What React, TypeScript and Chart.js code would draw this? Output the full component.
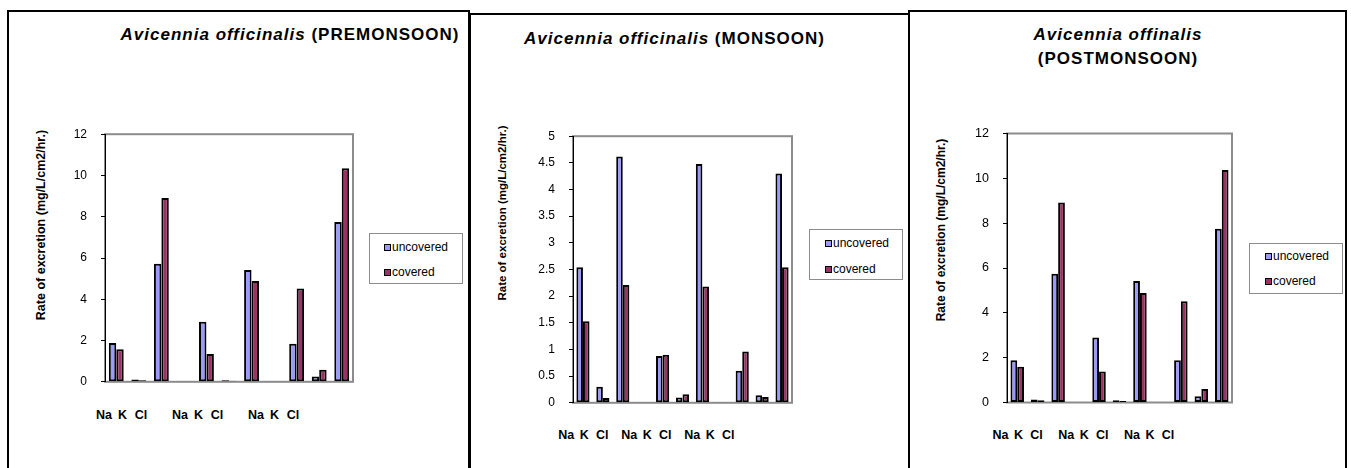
import React, { useEffect, useRef } from "react";
import { Chart, registerables } from "chart.js";

Chart.register(...registerables);

// ---------------- data ----------------
const categories = ["1", "2", "3", "4", "5", "6", "7", "8", "9", "10", "11"];
const seriesNames = ["uncovered", "covered"];

const preUncovered = [1.88, 0.11, 5.72, null, 2.91, 0.08, 5.42, null, 1.85, 0.26, 7.74];
const preCovered = [1.58, 0.08, 8.91, null, 1.35, 0.05, 4.89, null, 4.52, 0.58, 10.35];

const monUncovered = [2.54, 0.3, 4.62, null, 0.88, 0.1, 4.48, null, 0.6, 0.14, 4.3];
const monCovered = [1.53, 0.09, 2.21, null, 0.9, 0.16, 2.18, null, 0.96, 0.11, 2.54];

const postUncovered = [1.88, 0.13, 5.74, null, 2.9, 0.1, 5.42, null, 1.88, 0.28, 7.75];
const postCovered = [1.6, 0.1, 8.92, null, 1.38, 0.07, 4.88, null, 4.52, 0.6, 10.37];

const preYMax = 12;
const preYStep = 2;
const monYMax = 5;
const monYStep = 0.5;
const postYMax = 12;
const postYStep = 2;

const ionLabels = ["Na", "K", "Cl", "Na", "K", "Cl", "Na", "K", "Cl"];
const yAxisTitle = "Rate of excretion (mg/L/cm2/hr.)";

const preTitle = [
  [
    { t: "Avicennia officinalis", i: true },
    { t: " (PREMONSOON)", i: false },
  ],
];
const monTitle = [
  [
    { t: "Avicennia officinalis", i: true },
    { t: " (MONSOON)", i: false },
  ],
];
const postTitle = [[{ t: "Avicennia offinalis", i: true }], [{ t: "(POSTMONSOON)", i: false }]];

// ---------------- styles ----------------
const FONT = "'Liberation Sans', Arial, Helvetica, sans-serif";
const UNCOVERED_COLOR = "#9999FF";
const COVERED_COLOR = "#993366";
const FRAME_COLOR = "#8c8c8c";

type Part = { t: string; i: boolean };
type PanelCfg = {
  box: { left: number; top: number; right: number };
  area: { l: number; r: number; t: number; b: number };
  uncovered: (number | null)[];
  covered: (number | null)[];
  yMax: number;
  yStep: number;
  title: Part[][];
  titleCx: number;
  titleCys: number[];
  yTitle: { cx: number; cy: number; size: number };
  legend: { l: number; t: number; r: number; b: number; markerX: number; textX: number; rows: number[] };
  ion: { start: number; inner: number; triplet: number; cy: number };
  tickSize: number;
};

const panels: PanelCfg[] = [
  {
    box: { left: 7, top: 10, right: 470 },
    area: { l: 105, r: 353, t: 128, b: 388 },
    uncovered: preUncovered,
    covered: preCovered,
    yMax: preYMax,
    yStep: preYStep,
    title: preTitle,
    titleCx: 290,
    titleCys: [34.5],
    yTitle: { cx: 41, cy: 225, size: 12.5 },
    legend: { l: 369, t: 233, r: 463, b: 284, markerX: 384, textX: 392, rows: [247, 272] },
    ion: { start: 104, inner: 18.5, triplet: 76, cy: 415 },
    tickSize: 12,
  },
  {
    box: { left: 469, top: 13, right: 910 },
    area: { l: 573, r: 792, t: 130, b: 409 },
    uncovered: monUncovered,
    covered: monCovered,
    yMax: monYMax,
    yStep: monYStep,
    title: monTitle,
    titleCx: 674.5,
    titleCys: [38.7],
    yTitle: { cx: 501.5, cy: 213, size: 11.5 },
    legend: { l: 809, t: 229, r: 903, b: 280, markerX: 825, textX: 833, rows: [243, 269] },
    ion: { start: 566.3, inner: 18, triplet: 63, cy: 435 },
    tickSize: 12,
  },
  {
    box: { left: 908, top: 10, right: 1347 },
    area: { l: 1007, r: 1232, t: 127, b: 409 },
    uncovered: postUncovered,
    covered: postCovered,
    yMax: postYMax,
    yStep: postYStep,
    title: postTitle,
    titleCx: 1118,
    titleCys: [34.5, 59.2],
    yTitle: { cx: 941, cy: 230, size: 12 },
    legend: { l: 1249, t: 243, r: 1343, b: 294, markerX: 1265, textX: 1273, rows: [256, 281] },
    ion: { start: 1000.5, inner: 18, triplet: 65.7, cy: 435 },
    tickSize: 12.5,
  },
];

const PAD_T = 15;
const PAD_B = 15;
const PAD_R = 5;
const Y_W = 45;

const framePlugin = {
  id: "plotFrame",
  beforeDraw(chart: any) {
    const a = chart.chartArea;
    const ctx = chart.ctx;
    ctx.save();
    ctx.strokeStyle = FRAME_COLOR;
    ctx.lineWidth = 2;
    ctx.strokeRect(a.left, a.top, a.right - a.left, a.bottom - a.top);
    ctx.restore();
  },
};

function BarChart({ p }: { p: PanelCfg }) {
  const ref = useRef<HTMLCanvasElement | null>(null);
  const left = p.area.l - Y_W;
  const top = p.area.t - PAD_T;
  const width = p.area.r - left + PAD_R;
  const height = p.area.b - top + PAD_B;

  useEffect(() => {
    if (!ref.current) return;
    const chart = new Chart(ref.current, {
      type: "bar",
      data: {
        labels: categories,
        datasets: [
          {
            label: seriesNames[0],
            data: p.uncovered as any,
            backgroundColor: UNCOVERED_COLOR,
            borderColor: "#000",
            borderWidth: 2,
            borderSkipped: false,
          },
          {
            label: seriesNames[1],
            data: p.covered as any,
            backgroundColor: COVERED_COLOR,
            borderColor: "#000",
            borderWidth: 2,
            borderSkipped: false,
          },
        ],
      },
      options: {
        responsive: false,
        animation: false,
        events: [],
        layout: { padding: { top: PAD_T, bottom: PAD_B, right: PAD_R, left: 0 } },
        datasets: { bar: { categoryPercentage: 0.66, barPercentage: 1 } },
        plugins: {
          legend: { display: false },
          title: { display: false },
          tooltip: { enabled: false },
        },
        scales: {
          x: { display: false, offset: true },
          y: {
            min: 0,
            max: p.yMax,
            afterFit: (s: any) => {
              s.width = Y_W;
            },
            ticks: {
              stepSize: p.yStep,
              padding: 14,
              color: "#000",
              font: { family: FONT, size: p.tickSize },
              callback: (v: any) => String(Number(v)),
            },
            grid: {
              drawOnChartArea: false,
              drawTicks: true,
              tickLength: 4,
              color: "#000",
            },
            border: { display: true, color: "#000", width: 1 },
          },
        },
      },
      plugins: [framePlugin],
    });
    return () => chart.destroy();
  }, []);

  return (
    <canvas
      ref={ref}
      width={width}
      height={height}
      style={{ position: "absolute", left, top, width, height }}
    />
  );
}

function Panel({ p }: { p: PanelCfg }) {
  return (
    <>
      <div
        style={{
          position: "absolute",
          left: p.box.left,
          top: p.box.top,
          width: p.box.right - p.box.left,
          height: 500,
          boxSizing: "border-box",
          borderTop: "2px solid #000",
          borderLeft: "2px solid #000",
          borderRight: "2px solid #000",
          background: "#fff",
        }}
      />
      {p.title.map((line, li) => (
        <div
          key={"t" + li}
          style={{
            position: "absolute",
            left: p.titleCx,
            top: p.titleCys[li],
            transform: "translate(-50%, -50%)",
            whiteSpace: "pre",
            fontFamily: FONT,
            fontWeight: "bold",
            fontSize: 17,
            letterSpacing: 1,
            lineHeight: "20px",
            color: "#000",
          }}
        >
          {line.map((part, pi) => (
            <span key={pi} style={{ fontStyle: part.i ? "italic" : "normal" }}>
              {part.t}
            </span>
          ))}
        </div>
      ))}
      <div
        style={{
          position: "absolute",
          left: p.yTitle.cx,
          top: p.yTitle.cy,
          transform: "translate(-50%, -50%) rotate(-90deg)",
          whiteSpace: "nowrap",
          fontFamily: FONT,
          fontWeight: "bold",
          fontSize: p.yTitle.size,
          lineHeight: "15px",
          color: "#000",
        }}
      >
        {yAxisTitle}
      </div>
      <BarChart p={p} />
      <div
        style={{
          position: "absolute",
          left: p.legend.l,
          top: p.legend.t,
          width: p.legend.r - p.legend.l,
          height: p.legend.b - p.legend.t,
          boxSizing: "border-box",
          border: "1px solid #8c8c8c",
          background: "#fff",
        }}
      />
      {seriesNames.map((name, i) => (
        <React.Fragment key={name}>
          <div
            style={{
              position: "absolute",
              left: p.legend.markerX,
              top: p.legend.rows[i] - 3.5,
              width: 7,
              height: 7,
              boxSizing: "border-box",
              border: "1.5px solid #000",
              background: i === 0 ? UNCOVERED_COLOR : COVERED_COLOR,
            }}
          />
          <div
            style={{
              position: "absolute",
              left: p.legend.textX,
              top: p.legend.rows[i] - 7,
              fontFamily: FONT,
              fontSize: 12,
              lineHeight: "14px",
              whiteSpace: "nowrap",
              color: "#000",
            }}
          >
            {name}
          </div>
        </React.Fragment>
      ))}
      {ionLabels.map((lab, i) => (
        <div
          key={"ion" + i}
          style={{
            position: "absolute",
            left: p.ion.start + Math.floor(i / 3) * p.ion.triplet + (i % 3) * p.ion.inner,
            top: p.ion.cy,
            transform: "translate(-50%, -50%)",
            fontFamily: FONT,
            fontWeight: "bold",
            fontSize: 12.5,
            lineHeight: "14px",
            whiteSpace: "nowrap",
            color: "#000",
          }}
        >
          {lab}
        </div>
      ))}
    </>
  );
}

export default function App() {
  return (
    <div
      style={{
        position: "absolute",
        left: 0,
        top: 0,
        width: 1351,
        height: 468,
        overflow: "hidden",
        background: "#fff",
      }}
    >
      {panels.map((p, i) => (
        <Panel key={i} p={p} />
      ))}
    </div>
  );
}
